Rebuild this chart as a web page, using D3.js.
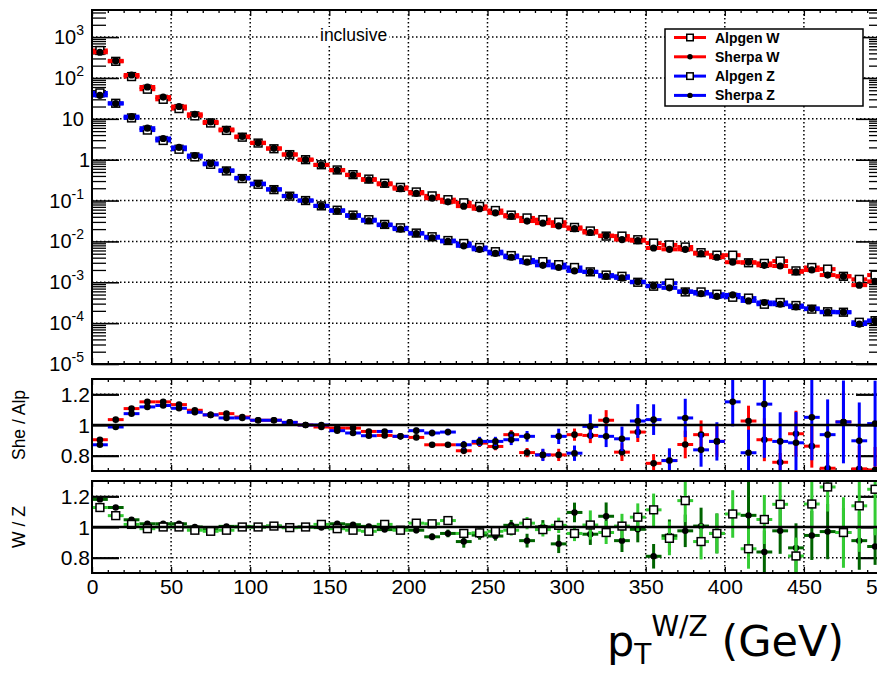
<!DOCTYPE html>
<html>
<head>
<meta charset="utf-8">
<script src="https://cdn.jsdelivr.net/npm/d3@7"></script>
<style>
  body { margin: 0; background: #fff; }
  svg { display: block; }
  text { font-family: "Liberation Sans", Arial, Helvetica, sans-serif; fill: #000; }
  text.title { font-family: "DejaVu Sans", sans-serif; }
</style>
</head>
<body>
<svg id="chart" width="877" height="674"></svg>
<script>
// pT bins (GeV): centres of the 10 GeV wide bins
const binCenters = [5, 15, 25, 35, 45, 55, 65, 75, 85, 95,
  105, 115, 125, 135, 145, 155, 165, 175, 185, 195,
  205, 215, 225, 235, 245, 255, 265, 275, 285, 295,
  305, 315, 325, 335, 345, 355, 365, 375, 385, 395,
  405, 415, 425, 435, 445, 455, 465, 475, 485, 495];
const binHalfWidth = 5;

// Differential distributions
const wAlpgen = [470, 255, 108, 53, 30, 17.8, 11.8, 7.9, 5.2, 3.55,
  2.55, 1.85, 1.33, 1.0, 0.75, 0.56, 0.43, 0.335, 0.265, 0.21,
  0.162, 0.13, 0.105, 0.088, 0.072, 0.057, 0.044, 0.0375, 0.034, 0.0295,
  0.022, 0.018, 0.0135, 0.0135, 0.011, 0.0091, 0.0082, 0.0073, 0.0053, 0.0046,
  0.0046, 0.0030, 0.0029, 0.0033, 0.0019, 0.0023, 0.0021, 0.0014, 0.00118, 0.0015];
const wSherpa = [425, 262, 118, 60, 34, 20, 12.9, 8.4, 5.5, 3.7,
  2.6, 1.9, 1.35, 1.0, 0.74, 0.55, 0.42, 0.32, 0.25, 0.195,
  0.15, 0.114, 0.093, 0.073, 0.063, 0.05, 0.041, 0.0315, 0.028, 0.024,
  0.0205, 0.0165, 0.0139, 0.0111, 0.0104, 0.0069, 0.0064, 0.0064, 0.005, 0.0041,
  0.0031, 0.0031, 0.0026, 0.0025, 0.0018, 0.0020, 0.0015, 0.0014, 0.00085, 0.00105];
const zAlpgen = [43, 24, 10.5, 5.3, 2.95, 1.8, 1.17, 0.77, 0.53, 0.345,
  0.25, 0.185, 0.128, 0.10, 0.074, 0.058, 0.044, 0.034, 0.026, 0.0215,
  0.016, 0.013, 0.0105, 0.0089, 0.0071, 0.0056, 0.0045, 0.0035, 0.0032, 0.0027,
  0.0023, 0.0018, 0.0015, 0.0014, 0.0010, 0.0008, 0.00095, 0.00058, 0.00058, 0.00051,
  0.00043, 0.00041, 0.00029, 0.00032, 0.00027, 0.00022, 0.00019, 0.000185, 0.000105, 0.000115];
const zSherpa = [37.5, 23.7, 11.3, 5.9, 3.3, 2.0, 1.26, 0.81, 0.55, 0.36,
  0.26, 0.19, 0.13, 0.10, 0.074, 0.056, 0.042, 0.032, 0.025, 0.020,
  0.0155, 0.0123, 0.010, 0.0078, 0.0064, 0.0051, 0.0041, 0.0031, 0.0026, 0.0023,
  0.0019, 0.0018, 0.0014, 0.00128, 0.00103, 0.00082, 0.00073, 0.0006, 0.00053, 0.00045,
  0.00049, 0.00035, 0.00032, 0.00029, 0.00025, 0.00023, 0.000185, 0.000185, 0.000095, 0.000115];

// Sherpa / Alpgen ratios with uncertainties
const ratioW = [0.904, 1.035, 1.107, 1.151, 1.151, 1.133, 1.096, 1.066, 1.074, 1.052,
  1.031, 1.031, 1.017, 1.0, 0.987, 0.98, 0.98, 0.958, 0.932, 0.926,
  0.919, 0.871, 0.871, 0.832, 0.882, 0.86, 0.937, 0.82, 0.805, 0.805,
  0.937, 0.932, 1.031, 0.823, 0.954, 0.75, 0.768, 0.873, 0.937, 0.893,
  0.67, 1.026, 0.904, 0.757, 0.943, 0.862, 0.718, 1.02, 0.714, 0.707];
const ratioWErr = [0.01, 0.008, 0.008, 0.008, 0.008, 0.008, 0.008, 0.008, 0.008, 0.008,
  0.008, 0.008, 0.008, 0.008, 0.01, 0.01, 0.01, 0.012, 0.012, 0.015,
  0.015, 0.018, 0.018, 0.022, 0.025, 0.025, 0.03, 0.03, 0.035, 0.04,
  0.04, 0.05, 0.066, 0.058, 0.065, 0.06, 0.07, 0.09, 0.093, 0.1,
  0.1, 0.1, 0.14, 0.06, 0.15, 0.14, 0.1, 0.2, 0.15, 0.15];
const ratioZ = [0.871, 0.987, 1.074, 1.118, 1.127, 1.109, 1.083, 1.066, 1.046, 1.046,
  1.031, 1.031, 1.017, 1.0, 1.0, 0.963, 0.948, 0.93, 0.958, 0.926,
  0.963, 0.948, 0.954, 0.871, 0.893, 0.893, 0.904, 0.926, 0.805, 0.926,
  0.816, 0.991, 0.926, 0.91, 1.026, 1.035, 0.768, 1.046, 0.838, 0.893,
  1.151, 0.819, 1.136, 0.893, 0.884, 1.05, 0.937, 1.02, 0.897, 1.009];
const ratioZErr = [0.01, 0.008, 0.008, 0.008, 0.008, 0.008, 0.008, 0.008, 0.008, 0.008,
  0.008, 0.008, 0.01, 0.01, 0.01, 0.012, 0.012, 0.015, 0.015, 0.018,
  0.02, 0.022, 0.022, 0.025, 0.03, 0.03, 0.035, 0.035, 0.04, 0.05,
  0.05, 0.079, 0.07, 0.08, 0.11, 0.10, 0.08, 0.125, 0.11, 0.125,
  0.16, 0.15, 0.35, 0.19, 0.2, 0.28, 0.23, 0.27, 0.25, 0.28];

// W / Z ratios with uncertainties
const wzAlpgen = [1.127, 1.074, 1.017, 0.989, 1.0, 1.0, 0.979, 0.972, 0.979, 1.0,
  1.0, 1.006, 0.996, 1.0, 1.017, 0.989, 0.979, 0.972, 1.017, 0.979,
  1.025, 1.021, 1.042, 0.958, 0.962, 0.972, 0.979, 1.025, 0.983, 1.011,
  0.958, 1.013, 0.964, 1.006, 1.064, 1.112, 0.926, 1.172, 0.905, 0.958,
  1.085, 0.858, 1.049, 1.148, 0.811, 1.15, 1.261, 0.964, 1.138, 1.246];
const wzAlpgenErr = [0.012, 0.01, 0.008, 0.008, 0.008, 0.008, 0.008, 0.008, 0.008, 0.008,
  0.008, 0.008, 0.01, 0.01, 0.01, 0.012, 0.012, 0.015, 0.015, 0.018,
  0.02, 0.022, 0.025, 0.028, 0.03, 0.03, 0.035, 0.04, 0.045, 0.05,
  0.05, 0.095, 0.075, 0.08, 0.09, 0.106, 0.11, 0.14, 0.116, 0.13,
  0.155, 0.13, 0.16, 0.15, 0.12, 0.15, 0.16, 0.23, 0.3, 0.3];
const wzSherpa = [1.18, 1.127, 1.047, 1.021, 1.021, 1.021, 1.0, 0.983, 1.004, 1.004,
  1.0, 1.006, 0.996, 1.0, 0.996, 1.021, 1.015, 1.004, 0.983, 0.983,
  0.979, 0.936, 0.958, 0.905, 0.947, 0.941, 1.011, 0.911, 1.0, 0.89,
  1.095, 0.953, 1.07, 0.911, 0.985, 0.809, 0.943, 0.975, 1.006, 0.958,
  0.62, 1.076, 0.837, 0.975, 0.864, 0.945, 0.97, 0.964, 0.911, 0.873];
const wzSherpaErr = [0.012, 0.01, 0.008, 0.008, 0.008, 0.008, 0.008, 0.008, 0.008, 0.008,
  0.008, 0.008, 0.01, 0.01, 0.01, 0.012, 0.012, 0.015, 0.015, 0.018,
  0.02, 0.022, 0.025, 0.04, 0.03, 0.03, 0.035, 0.045, 0.045, 0.06,
  0.064, 0.07, 0.09, 0.074, 0.085, 0.08, 0.106, 0.106, 0.12, 0.13,
  0.15, 0.27, 0.14, 0.15, 0.16, 0.16, 0.18, 0.16, 0.19, 0.12];

// Axis ticks
const xMajorTicks = [0, 50, 100, 150, 200, 250, 300, 350, 400, 450, 500];
const xMinorTicks = [10, 20, 30, 40, 60, 70, 80, 90, 110, 120, 130, 140, 160, 170, 180, 190,
  210, 220, 230, 240, 260, 270, 280, 290, 310, 320, 330, 340, 360, 370, 380, 390,
  410, 420, 430, 440, 460, 470, 480, 490];
const decadeExponents = [-5, -4, -3, -2, -1, 0, 1, 2, 3];
const ratioTicks = [0.8, 1, 1.2];

const legendEntries = ["Alpgen W", "Sherpa W", "Alpgen Z", "Sherpa Z"];

// ---------------------------------------------------------------------------
const svg = d3.select("#chart");
const RED = "#ff0000", BLUE = "#0000ff", LIGHTGREEN = "#33cc33", DARKGREEN = "#006400";

const frameL = 92, frameR = 883;
const x = d3.scaleLinear().domain([0, 500]).range([frameL, frameR]);

const panels = {
  top: { y0: 10, y1: 364 },
  mid: { y0: 379, y1: 471 },
  bot: { y0: 481, y1: 573 }
};
const yTop = d3.scaleLog().domain([1e-5, 4600]).range([panels.top.y1, panels.top.y0]);
const yMid = d3.scaleLinear().domain([0.7, 1.3]).range([panels.mid.y1, panels.mid.y0]);
const yBot = d3.scaleLinear().domain([0.7, 1.3]).range([panels.bot.y1, panels.bot.y0]);

const defs = svg.append("defs");
Object.entries(panels).forEach(([k, p]) => {
  defs.append("clipPath").attr("id", "clip-" + k)
    .append("rect").attr("x", frameL).attr("y", p.y0)
    .attr("width", frameR - frameL).attr("height", p.y1 - p.y0);
});

function dotted(g, x1, y1, x2, y2) {
  g.append("line").attr("x1", x1).attr("y1", y1).attr("x2", x2).attr("y2", y2)
    .attr("stroke", "#000").attr("stroke-width", 1.5).attr("stroke-dasharray", "1.5,2.5");
}

function styleAxis(sel, width) {
  sel.select(".domain").remove();
  sel.selectAll(".tick line").attr("stroke", "#000").attr("stroke-width", width || 1.3);
}

// frame ticks along x, pointing into a panel
function xFrameTicks(p) {
  [[p.y0, d3.axisTop], [p.y1, d3.axisBottom]].forEach(([py, ax]) => {
    const gMaj = svg.append("g").attr("transform", `translate(0,${py})`);
    gMaj.call(ax(x).tickValues(xMajorTicks).tickSize(-6).tickFormat(""));
    styleAxis(gMaj);
    const gMin = svg.append("g").attr("transform", `translate(0,${py})`);
    gMin.call(ax(x).tickValues(xMinorTicks).tickSize(-3).tickFormat(""));
    styleAxis(gMin);
  });
}

function drawMarker(g, type, cx, cy, s) {
  if (type === "square") {
    g.append("rect").attr("x", cx - s / 2).attr("y", cy - s / 2)
      .attr("width", s).attr("height", s)
      .attr("fill", "#fff").attr("stroke", "#000").attr("stroke-width", 1.5);
  } else {
    g.append("circle").attr("cx", cx).attr("cy", cy).attr("r", s / 2 - 0.3).attr("fill", "#000");
  }
}

function drawSeries(panelKey, yScale, vals, errs, color, marker, barWidth, markerSize) {
  const g = svg.append("g").attr("clip-path", `url(#clip-${panelKey})`);
  const [lo, hi] = yScale.domain();
  vals.forEach((v, i) => {
    if (v <= lo || v >= hi) return;
    const c = binCenters[i];
    const cy = yScale(v);
    g.append("line")
      .attr("x1", x(c - binHalfWidth)).attr("x2", x(c + binHalfWidth))
      .attr("y1", cy).attr("y2", cy)
      .attr("stroke", color).attr("stroke-width", barWidth);
    if (errs) {
      g.append("line")
        .attr("x1", x(c)).attr("x2", x(c))
        .attr("y1", yScale(v - errs[i])).attr("y2", yScale(v + errs[i]))
        .attr("stroke", color).attr("stroke-width", barWidth);
    }
  });
  vals.forEach((v, i) => {
    if (v <= lo || v >= hi) return;
    drawMarker(g, marker, x(binCenters[i]), yScale(v), markerSize);
  });
}

// ---------------- top panel -----------------------------------------------
const gridTop = svg.append("g");
xMajorTicks.filter(t => t > 0 && t < 500).forEach(t => dotted(gridTop, x(t), panels.top.y0, x(t), panels.top.y1));
decadeExponents.filter(e => e > -5).forEach(e => dotted(gridTop, frameL, yTop(Math.pow(10, e)), frameR, yTop(Math.pow(10, e))));

// "inclusive" label with a white box so the grid does not run through it
const inc = svg.append("g");
inc.append("rect").attr("x", 318).attr("y", 27).attr("width", 71).attr("height", 17).attr("fill", "#fff");
inc.append("text").attr("x", 320).attr("y", 41).attr("font-size", 17.5).text("inclusive");

const logMinor = [];
decadeExponents.forEach(e => {
  for (let m = 2; m <= 9; m++) {
    const v = m * Math.pow(10, e);
    if (v < 4600) logMinor.push(v);
  }
});
const decadeValues = decadeExponents.map(e => Math.pow(10, e));

[[frameL, d3.axisLeft], [frameR, d3.axisRight]].forEach(([px, ax]) => {
  const gMin = svg.append("g").attr("transform", `translate(${px},0)`);
  gMin.call(ax(yTop).tickValues(logMinor).tickSize(-14).tickFormat(""));
  styleAxis(gMin);
  const gMaj = svg.append("g").attr("transform", `translate(${px},0)`);
  gMaj.call(ax(yTop).tickValues(decadeValues).tickSize(-27).tickFormat(""));
  styleAxis(gMaj, 1.6);
});

// decade labels
const labTop = svg.append("g").attr("font-size", 20);
decadeExponents.forEach(e => {
  const yy = yTop(Math.pow(10, e)) + 7;
  if (e === 0) {
    labTop.append("text").attr("x", 90).attr("y", yy).attr("text-anchor", "end").text("1");
  } else if (e === 1) {
    labTop.append("text").attr("x", 84).attr("y", yy).attr("text-anchor", "end").text("10");
  } else {
    const t = labTop.append("text").attr("x", 84).attr("y", yy).attr("text-anchor", "end");
    t.append("tspan").text("10");
    t.append("tspan").attr("dy", -9).attr("font-size", 14).text(String(e));
  }
});
xFrameTicks(panels.top);

const topSeries = [
  { vals: wAlpgen, color: RED, marker: "square" },
  { vals: wSherpa, color: RED, marker: "circle" },
  { vals: zAlpgen, color: BLUE, marker: "square" },
  { vals: zSherpa, color: BLUE, marker: "circle" }
];
topSeries.forEach(s => drawSeries("top", yTop, s.vals, null, s.color, s.marker, 4, 7.8));

svg.append("rect").attr("x", frameL).attr("y", panels.top.y0)
  .attr("width", frameR - frameL).attr("height", panels.top.y1 - panels.top.y0)
  .attr("fill", "none").attr("stroke", "#000").attr("stroke-width", 2);

// legend
const leg = svg.append("g");
leg.append("rect").attr("x", 665).attr("y", 29).attr("width", 198).attr("height", 77)
  .attr("fill", "#fff").attr("stroke", "#000").attr("stroke-width", 1.5);
legendEntries.forEach((name, i) => {
  const s = topSeries[i];
  const yy = 37.5 + i * 19.3;
  leg.append("line").attr("x1", 674).attr("x2", 706).attr("y1", yy).attr("y2", yy)
    .attr("stroke", s.color).attr("stroke-width", 3);
  drawMarker(leg, s.marker, 690, yy, s.marker === "square" ? 6.5 : 6);
  leg.append("text").attr("x", 715).attr("y", yy + 5).attr("font-size", 14)
    .attr("font-weight", "bold").text(name);
});

// ---------------- ratio panels --------------------------------------------
function ratioPanel(key, yScale, title) {
  const p = panels[key];
  const g = svg.append("g");
  xMajorTicks.filter(t => t > 0 && t < 500).forEach(t => dotted(g, x(t), p.y0, x(t), p.y1));
  ratioTicks.filter(t => t !== 1).forEach(t => dotted(g, frameL, yScale(t), frameR, yScale(t)));
  [[frameL, d3.axisLeft], [frameR, d3.axisRight]].forEach(([px, ax]) => {
    const ga = svg.append("g").attr("transform", `translate(${px},0)`);
    ga.call(ax(yScale).tickValues(ratioTicks).tickSize(-27).tickFormat(""));
    styleAxis(ga, 2.2);
  });
  const lab = svg.append("g").attr("font-size", 21);
  ratioTicks.forEach(t => {
    lab.append("text").attr("x", 90).attr("y", yScale(t) + 7.5).attr("text-anchor", "end")
      .text(d3.format("~g")(t));
  });
  xFrameTicks(p);
  svg.append("text")
    .attr("transform", `translate(25,${(p.y0 + p.y1) / 2}) rotate(-90)`)
    .attr("text-anchor", "middle").attr("font-size", 17.5).text(title);
}

ratioPanel("mid", yMid, "She / Alp");
drawSeries("mid", yMid, ratioW, ratioWErr, RED, "circle", 3, 7.2);
drawSeries("mid", yMid, ratioZ, ratioZErr, BLUE, "circle", 3, 7.2);

ratioPanel("bot", yBot, "W / Z");
drawSeries("bot", yBot, wzSherpa, wzSherpaErr, DARKGREEN, "circle", 3, 7);
drawSeries("bot", yBot, wzAlpgen, wzAlpgenErr, LIGHTGREEN, "square", 3, 7.8);

// unity lines and frames
[["mid", yMid], ["bot", yBot]].forEach(([k, ys]) => {
  const p = panels[k];
  svg.append("line").attr("x1", frameL).attr("x2", frameR).attr("y1", ys(1)).attr("y2", ys(1))
    .attr("stroke", "#000").attr("stroke-width", 2.6);
  svg.append("rect").attr("x", frameL).attr("y", p.y0)
    .attr("width", frameR - frameL).attr("height", p.y1 - p.y0)
    .attr("fill", "none").attr("stroke", "#000").attr("stroke-width", 2);
});

// x tick labels
const xl = svg.append("g").attr("transform", `translate(0,${panels.bot.y1})`);
xl.call(d3.axisBottom(x).tickValues(xMajorTicks).tickSize(0).tickPadding(6).tickFormat(d3.format("d")));
xl.select(".domain").remove();
xl.selectAll("text").attr("font-size", 21).attr("fill", "#000");

// x axis title
const xt = svg.append("text").attr("class", "title").attr("x", 607).attr("y", 656)
  .attr("font-size", 43);
xt.append("tspan").text("p");
xt.append("tspan").attr("font-size", 28).attr("dy", 8).text("T");
xt.append("tspan").attr("font-size", 28).attr("dy", -28).text("W/Z");
xt.append("tspan").attr("dy", 20).text(" (GeV)");
</script>
</body>
</html>
